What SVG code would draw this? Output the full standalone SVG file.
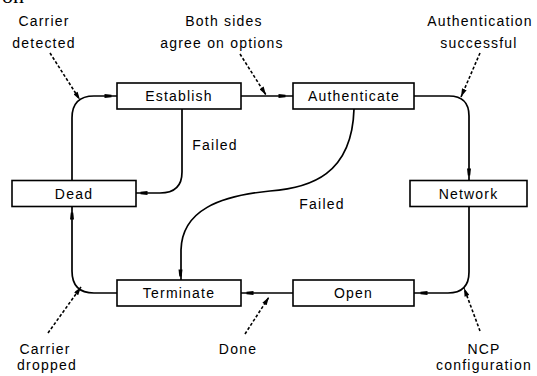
<svg xmlns="http://www.w3.org/2000/svg" width="537" height="376" viewBox="0 0 537 376">
<style>
.box{fill:#fff;stroke:#000;stroke-width:1.6}
.lbl{font-family:"Liberation Sans",Arial,sans-serif;font-size:14px;letter-spacing:1.2px;fill:#000;text-anchor:middle}
.conn{fill:none;stroke:#000;stroke-width:1.7}
.dash{fill:none;stroke:#000;stroke-width:1.6;stroke-dasharray:3 2}
.dot{fill:#000}
</style>
<defs>
<marker id="ah" viewBox="0 0 10 6" refX="10" refY="3" markerWidth="9" markerHeight="5" markerUnits="userSpaceOnUse" orient="auto">
<path d="M0,0 L10,3 L0,6 Z" fill="#000"/>
</marker>
<path id="d" d="M-3.5,-2 L3.5,-1.2 L3.5,1.2 L-3.5,2 Z"/>
</defs>
<rect width="537" height="376" fill="#fff"/>
<text x="2" y="3" font-family="'Liberation Serif',serif" font-size="22" fill="#000">on</text>

<g id="connectors">
<path class="conn" d="M72,180 V118 Q72,96 94,96 H117"/>
<path class="conn" d="M241,96 H293"/>
<path class="conn" d="M414,96 H449 Q469,96 469,116 V180"/>
<path class="conn" d="M469,207 V272 Q469,293 448,293 H414"/>
<path class="conn" d="M293,293 H241"/>
<path class="conn" d="M117,293 H94 Q72,293 72,271 V207"/>
<path class="conn" d="M182,109 V172 Q182,193 160,193 H136"/>
<path class="conn" d="M354,109 C352,175 310,188 270,191 C220,196 182,210 181,250 V280"/>
<use href="#d" class="dot" transform="translate(108,96)"/>
<use href="#d" class="dot" transform="translate(282,96)"/>
<use href="#d" class="dot" transform="translate(469,172) rotate(90)"/>
<use href="#d" class="dot" transform="translate(424,293) rotate(180)"/>
<use href="#d" class="dot" transform="translate(250,293) rotate(180)"/>
<use href="#d" class="dot" transform="translate(72,216) rotate(-90)"/>
<use href="#d" class="dot" transform="translate(144,193) rotate(180)"/>
<use href="#d" class="dot" transform="translate(180.5,273) rotate(90)"/>
<path class="dash" d="M50,53 L80,100" marker-end="url(#ah)"/>
<path class="dash" d="M240,54 L266,95" marker-end="url(#ah)"/>
<path class="dash" d="M480,53 L461,97" marker-end="url(#ah)"/>
<path class="dash" d="M480,331 L464,288" marker-end="url(#ah)"/>
<path class="dash" d="M245,334 L269,297" marker-end="url(#ah)"/>
<path class="dash" d="M48,333 L81,287" marker-end="url(#ah)"/>
</g>

<g id="establish"><rect class="box" x="117" y="83" width="124" height="26"/><text class="lbl" x="179" y="101">Establish</text></g>
<g id="authenticate"><rect class="box" x="293" y="83" width="121" height="26"/><text class="lbl" x="354" y="101">Authenticate</text></g>
<g id="dead"><rect class="box" x="12" y="180.5" width="124" height="26"/><text class="lbl" x="74" y="198.5">Dead</text></g>
<g id="network"><rect class="box" x="410" y="180.5" width="117" height="26"/><text class="lbl" x="468.5" y="198.5">Network</text></g>
<g id="terminate"><rect class="box" x="117" y="280" width="124" height="26"/><text class="lbl" x="179" y="298">Terminate</text></g>
<g id="open"><rect class="box" x="293" y="280" width="121" height="26"/><text class="lbl" x="353.5" y="298">Open</text></g>

<g id="labels">
<text class="lbl" x="44" y="26">Carrier</text>
<text class="lbl" x="44" y="48">detected</text>
<text class="lbl" x="224" y="26">Both sides</text>
<text class="lbl" x="222" y="48">agree on options</text>
<text class="lbl" x="480" y="26">Authentication</text>
<text class="lbl" x="479" y="48">successful</text>
<text class="lbl" x="215" y="150">Failed</text>
<text class="lbl" x="322" y="209">Failed</text>
<text class="lbl" x="45" y="354">Carrier</text>
<text class="lbl" x="47" y="370">dropped</text>
<text class="lbl" x="238" y="354">Done</text>
<text class="lbl" x="484" y="354">NCP</text>
<text class="lbl" x="484" y="370">configuration</text>
</g>
</svg>
